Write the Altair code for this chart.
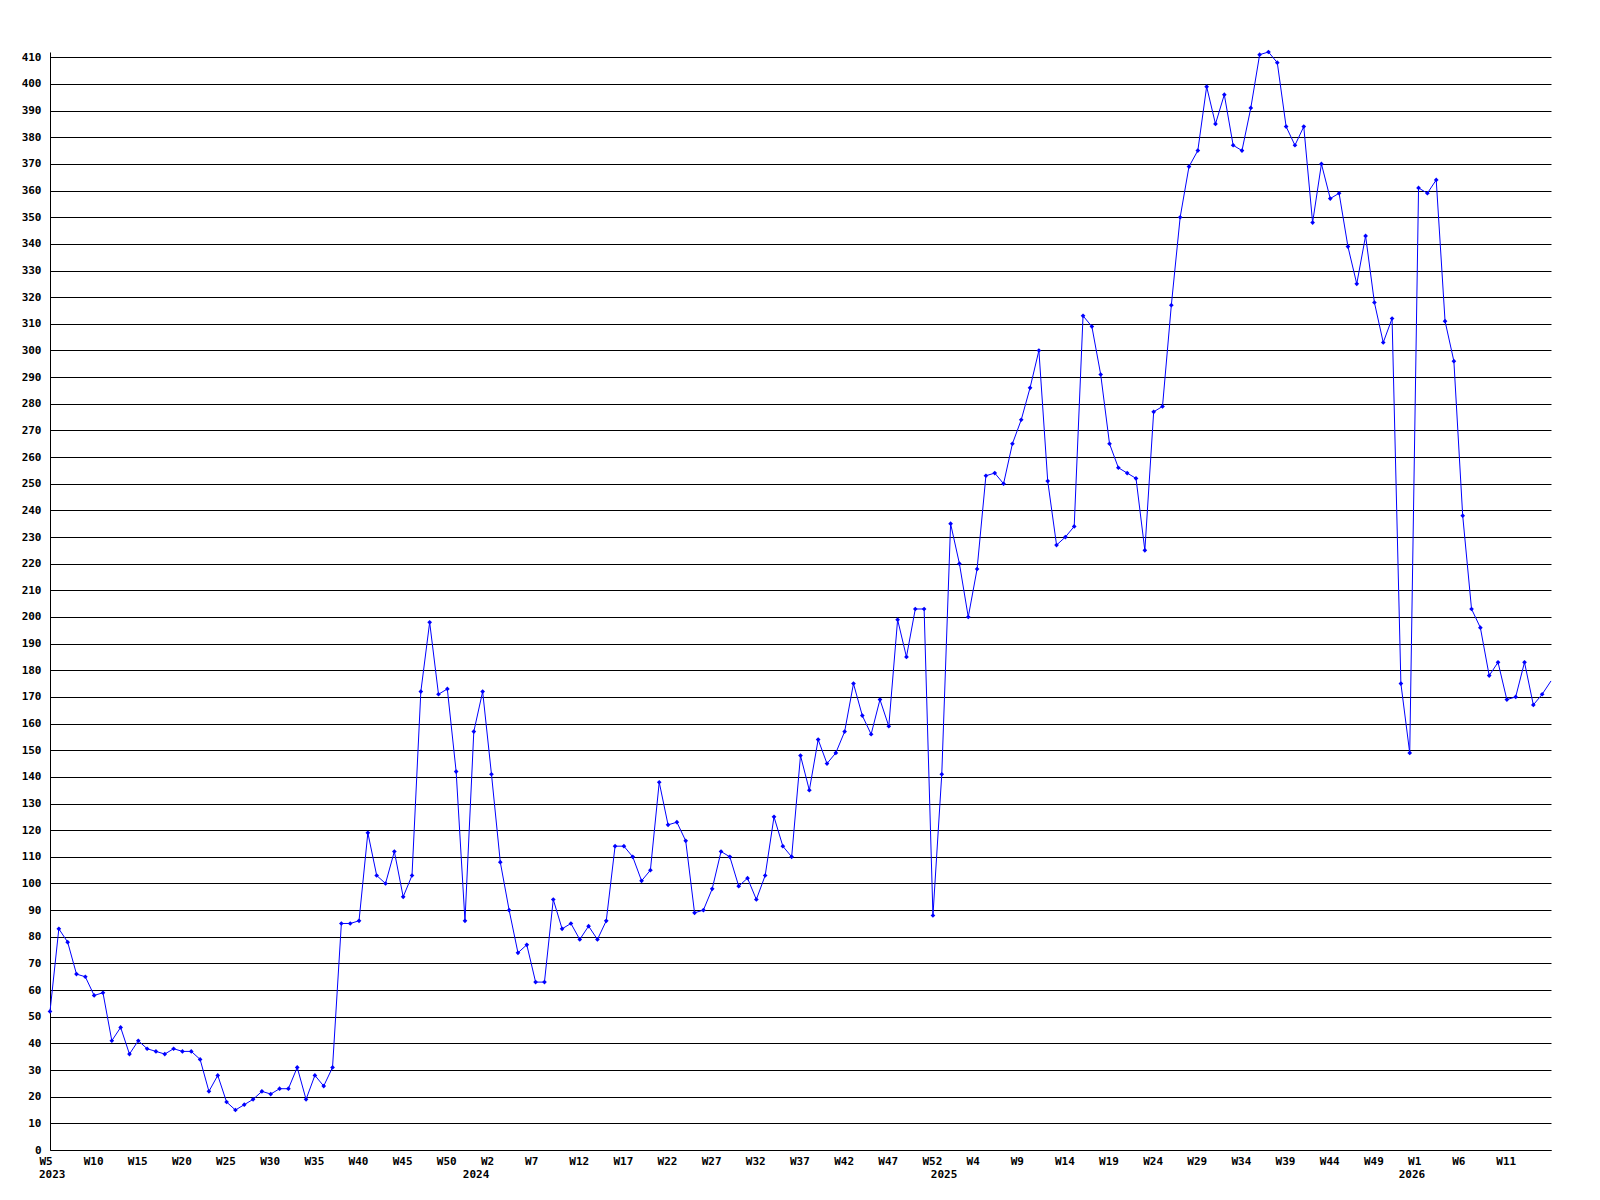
import altair as alt
import pandas as pd

# weekly values, 2023 W5 onwards
values = [
    52, 83, 78, 66, 65, 58, 59, 41, 46, 36,
    41, 38, 37, 36, 38, 37, 37, 34, 22, 28,
    18, 15, 17, 19, 22, 21, 23, 23, 31, 19,
    28, 24, 31, 85, 85, 86, 119, 103, 100, 112,
    95, 103, 172, 198, 171, 173, 142, 86, 157, 172,
    141, 108, 90, 74, 77, 63, 63, 94, 83, 85,
    79, 84, 79, 86, 114, 114, 110, 101, 105, 138,
    122, 123, 116, 89, 90, 98, 112, 110, 99, 102,
    94, 103, 125, 114, 110, 148, 135, 154, 145, 149,
    157, 175, 163, 156, 169, 159, 199, 185, 203, 203,
    88, 141, 235, 220, 200, 218, 253, 254, 250, 265,
    274, 286, 300, 251, 227, 230, 234, 313, 309, 291,
    265, 256, 254, 252, 225, 277, 279, 317, 350, 369,
    375, 399, 385, 396, 377, 375, 391, 411, 412, 408,
    384, 377, 384, 348, 370, 357, 359, 339, 325, 343,
    318, 303, 312, 175, 149, 361, 359, 364, 311, 296,
    238, 203, 196, 178, 183, 169, 170, 183, 167, 171,
    176,
]

tick_labels = [
    "W5", "W10", "W15", "W20", "W25", "W30", "W35", "W40", "W45", "W50",
    "W2", "W7", "W12", "W17", "W22", "W27", "W32", "W37", "W42", "W47", "W52",
    "W4", "W9", "W14", "W19", "W24", "W29", "W34", "W39", "W44", "W49",
    "W1", "W6", "W11",
]
years = ["2023", "2024", "2025", "2026"]
year_index = [0, 48, 101, 154]

df = pd.DataFrame({"i": list(range(len(values))), "v": values})
df_years = pd.DataFrame({"i": year_index, "year": years})

ticks = list(range(0, 5 * len(tick_labels), 5))
label_js = "[" + ",".join("'" + t + "'" for t in tick_labels) + "]"
last_i = len(values) - 1

FONT = "DejaVu Sans Mono"
W, H = 1501, 1098

xscale = alt.Scale(domain=[0, last_i], nice=False)
yscale = alt.Scale(domain=[0, 412], nice=False)

x_axis = alt.Axis(
    values=ticks,
    labelExpr=label_js + "[round(datum.value/5)]",
    title=None, grid=False, ticks=False,
    labelAlign="left", labelOffset=-11, labelBaseline="top", labelPadding=5,
    labelFont=FONT, labelFontSize=11, labelFontWeight="bold", labelColor="black",
    labelOverlap=False, labelFlush=False, domainColor="black", domainWidth=1,
)
y_axis = alt.Axis(
    values=list(range(0, 411, 10)),
    tickCount=42,
    title=None, grid=True, gridColor="black", gridOpacity=1, gridWidth=1,
    ticks=False, labelPadding=9,
    labelFont=FONT, labelFontSize=11, labelFontWeight="bold", labelColor="black",
    labelOverlap=False, domainColor="black", domainWidth=1,
)

X = alt.X("i:Q", scale=xscale, axis=x_axis)
Y = alt.Y("v:Q", scale=yscale, axis=y_axis)

base = alt.Chart(df)

line = base.mark_line(color="#0000ff", strokeWidth=1).encode(x=X, y=Y)

points = base.transform_filter(f"datum.i < {last_i}").mark_point(
    shape="diamond", filled=True, size=22, color="#0000ff", opacity=1
).encode(x=X, y=Y)

year_text = alt.Chart(df_years).mark_text(
    align="left", baseline="top", dx=-11, font=FONT, fontSize=11,
    fontWeight="bold", color="black"
).encode(
    x=X,
    y=alt.value(H + 19),
    text="year:N",
)

chart = alt.layer(line, points, year_text).properties(
    width=W, height=H,
    autosize=alt.AutoSizeParams(type="none"),
    padding={"left": 42, "top": 44, "right": 30, "bottom": 40},
    background="white",
).configure_view(stroke=None)

chart.save("out.html", embed_options={"renderer": "svg", "actions": False})
